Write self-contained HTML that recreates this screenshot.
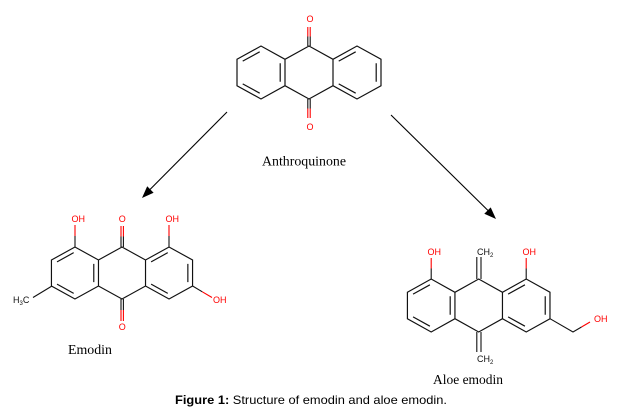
<!DOCTYPE html>
<html><head><meta charset="utf-8"><style>
html,body{margin:0;padding:0;background:#fff;}
svg{display:block;}
.a{font-family:"Liberation Sans",Arial,sans-serif;font-size:9px;}
.r{fill:#ff0000;}
.k{fill:#111;}
.lab{font-family:"Liberation Serif","Times New Roman",serif;font-size:14px;fill:#000;}
.cap{font-family:"Liberation Sans",Arial,sans-serif;font-size:12px;fill:#000;}
</style></head><body>
<svg width="618" height="419" viewBox="0 0 618 419" xmlns="http://www.w3.org/2000/svg">
<defs>
<g id="ant" fill="none" stroke="#111" stroke-width="1.2">
<path d="M-72,-13.5 L-48,-27 L-24,-13.5 L0,-27 L24,-13.5 L48,-27 L72,-13.5 L72,13.5 L48,27 L24,13.5 L0,27 L-24,13.5 L-48,27 L-72,13.5 Z M-24,-13.5 L-24,13.5 M24,-13.5 L24,13.5"/>
<path d="M-66.3,-11.6 L-49.3,-21.1 M-28.8,-9.5 L-28.8,9.5 M-66.3,11.6 L-49.3,21.1 M29.7,-11.6 L46.7,-21.1 M67.2,-9.5 L67.2,9.5 M29.7,11.6 L46.7,21.1"/>
</g>
</defs>
<rect width="618" height="419" fill="#fff"/>

<!-- Anthraquinone -->
<use href="#ant" transform="translate(309,72.5) scale(1,0.98)"/>
<g stroke-width="1.1" fill="none">
<path d="M307.8,46 L307.8,36.5 M310.2,46 L310.2,36.5 M307.8,99 L307.8,108.5 M310.2,99 L310.2,108.5" stroke="#111"/>
<path d="M307.8,36.5 L307.8,27 M310.2,36.5 L310.2,27 M307.8,108.5 L307.8,118 M310.2,108.5 L310.2,118" stroke="#ff0000"/>
</g>
<text class="a r" x="310" y="22" text-anchor="middle">O</text>
<text class="a r" x="310" y="130" text-anchor="middle">O</text>
<text class="lab" x="262" y="165.5" textLength="84" lengthAdjust="spacingAndGlyphs">Anthroquinone</text>

<!-- Arrows -->
<g stroke="#000" stroke-width="1.1" fill="none">
<path d="M227,112 L150,189.5"/>
<path d="M391,115 L488,210.5"/>
</g>
<polygon points="142,198 153.6,192.7 147.2,186.3" fill="#000"/>
<polygon points="496,219 484.3,213.8 490.7,207.4" fill="#000"/>

<!-- Emodin -->
<use href="#ant" transform="translate(122,273) scale(0.98,0.963)"/>
<g stroke-width="1.1" fill="none">
<path d="M75,247 L75,236 M169,247 L169,236 M121,247 L121,236.5 M123.4,247 L123.4,236.5 M121,299 L121,310 M123.4,299 L123.4,310 M192.6,286 L202.3,291.8 M52,286 L33,297.5" stroke="#111"/>
<path d="M75,236 L75,225 M169,236 L169,225 M121,236.5 L121,226 M123.4,236.5 L123.4,226 M121,310 L121,321 M123.4,310 L123.4,321 M202.3,291.8 L212,297.5" stroke="#ff0000"/>
</g>
<text class="a r" x="71.5" y="222">OH</text>
<text class="a r" x="122.2" y="222" text-anchor="middle">O</text>
<text class="a r" x="165.5" y="222">OH</text>
<text class="a r" x="213" y="303">OH</text>
<text class="a r" x="122.2" y="330" text-anchor="middle">O</text>
<text class="a k" x="13" y="303">H<tspan font-size="6" dy="2">3</tspan><tspan dy="-2">C</tspan></text>
<text class="lab" x="68" y="354" textLength="44" lengthAdjust="spacingAndGlyphs">Emodin</text>

<!-- Aloe emodin -->
<use href="#ant" transform="translate(478.7,305.5) scale(0.99,0.98)"/>
<g stroke-width="1.1" fill="none">
<path d="M431.2,279 L431.2,268.5 M526.2,279 L526.2,268.5 M476.8,279 L476.8,257 M481,279 L481,257 M476.8,332 L476.8,352 M481,332 L481,352 M550,318.7 L573,332 L581.5,327" stroke="#111"/>
<path d="M431.2,268.5 L431.2,258 M526.2,268.5 L526.2,258 M581.5,327 L590,322" stroke="#ff0000"/>
</g>
<text class="a r" x="427.5" y="255">OH</text>
<text class="a k" x="477" y="255">CH<tspan font-size="6" dy="2">2</tspan></text>
<text class="a r" x="522.5" y="255">OH</text>
<text class="a r" x="594" y="322">OH</text>
<text class="a k" x="477" y="362">CH<tspan font-size="6" dy="2">2</tspan></text>
<text class="lab" x="433" y="384" textLength="70" lengthAdjust="spacingAndGlyphs">Aloe emodin</text>

<!-- Caption -->
<text class="cap" x="175" y="404" textLength="272" lengthAdjust="spacingAndGlyphs"><tspan font-weight="bold">Figure 1:</tspan> Structure of emodin and aloe emodin.</text>
</svg>
</body></html>
